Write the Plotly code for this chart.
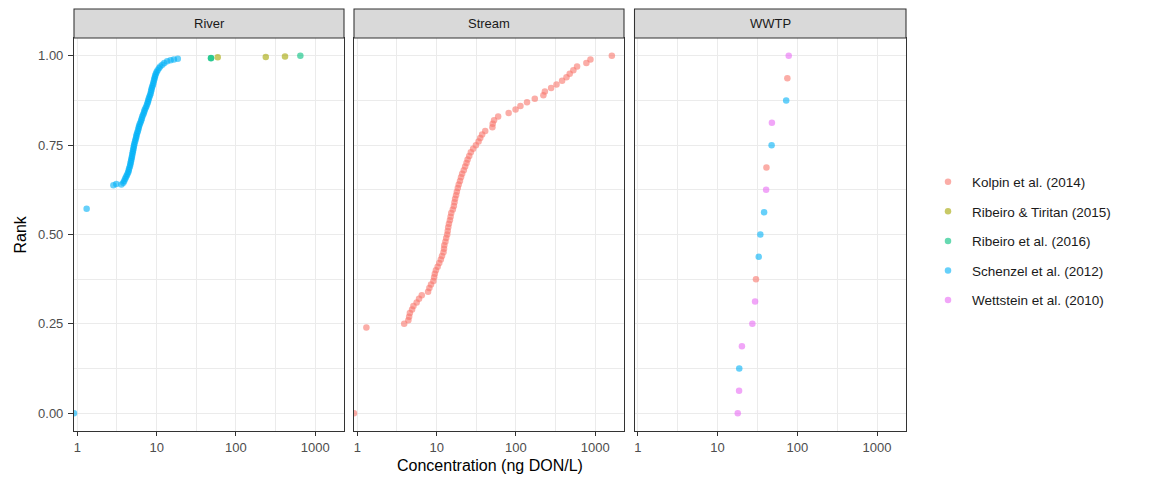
import plotly.graph_objects as go

# ---------------- data ----------------
SOURCES = ["Kolpin et al. (2014)", "Ribeiro & Tiritan (2015)", "Ribeiro et al. (2016)",
           "Schenzel et al. (2012)", "Wettstein et al. (2010)"]
COLORS = ["#F8766D", "#A3A500", "#00BF7D", "#00B0F6", "#E76BF3"]
PANELS = ["River", "Stream", "WWTP"]
X_TICKS = [1, 10, 100, 1000]
X_TICK_LABELS = ["1", "10", "100", "1000"]
X_MINOR = [3.1623, 31.623, 316.23]
Y_TICKS = [0, 0.25, 0.5, 0.75, 1.0]
Y_TICK_LABELS = ["0.00", "0.25", "0.50", "0.75", "1.00"]
Y_MINOR = [0.125, 0.375, 0.625, 0.875]

# River
river_schenzel_conc = [0, 1.31, 2.85, 3.1, 3.6, 3.8, 3.9, 4.0, 4.1, 4.2, 4.3, 4.4, 4.45, 4.5, 4.6,
                       4.65, 4.7, 4.75, 4.8, 4.85, 4.9, 4.95, 5.0, 5.05, 5.1, 5.15, 5.2, 5.25, 5.35,
                       5.4, 5.5, 5.55, 5.6, 5.7, 5.8, 5.9, 5.95, 6.05, 6.15, 6.3, 6.4, 6.5, 6.6, 6.75,
                       6.9, 7.0, 7.1, 7.3, 7.45, 7.6, 7.75, 7.85, 7.95, 8.1, 8.25, 8.4, 8.5, 8.6, 8.7,
                       8.85, 9.0, 9.1, 9.25, 9.35, 9.5, 9.6, 9.8, 10.0, 10.3, 10.7, 11.1, 11.8, 12.5,
                       13.6, 15.0, 16.5, 18.5]
river_schenzel_rank = [0, 0.572, 0.638, 0.641, 0.640, 0.645, 0.650, 0.655, 0.660, 0.665, 0.670, 0.675,
                       0.680, 0.685, 0.690, 0.695, 0.700, 0.705, 0.710, 0.715, 0.720, 0.725, 0.730,
                       0.735, 0.740, 0.745, 0.750, 0.755, 0.760, 0.765, 0.770, 0.775, 0.780, 0.785,
                       0.790, 0.795, 0.800, 0.805, 0.810, 0.815, 0.820, 0.825, 0.830, 0.835, 0.840,
                       0.845, 0.850, 0.855, 0.860, 0.865, 0.870, 0.875, 0.880, 0.885, 0.890, 0.895,
                       0.900, 0.905, 0.910, 0.915, 0.920, 0.925, 0.930, 0.935, 0.940, 0.945, 0.950,
                       0.955, 0.960, 0.965, 0.970, 0.975, 0.980, 0.985, 0.988, 0.990, 0.992]
river_tiritan_conc = [59, 238, 416]
river_tiritan_rank = [0.996, 0.997, 0.998]
river_ribeiro_conc = [48.5, 48.5, 649]
river_ribeiro_rank = [0.993, 0.994, 1.0]

# Stream
stream_kolpin_conc = [0, 1.3, 3.9, 4.4, 4.5, 4.6, 4.9, 5.1, 5.6, 6.0, 6.5, 7.8, 8.1, 8.5, 9.1, 9.3, 9.5,
                      9.8, 10.3, 10.8, 11.3, 11.7, 12.2, 12.4, 12.5, 12.9, 13.2, 13.6, 13.8, 14.0, 14.3,
                      14.7, 15.0, 15.3, 16.0, 16.5, 16.8, 17.1, 17.6, 18.0, 18.5, 19.0, 19.7, 20.3,
                      21.0, 22.0, 22.9, 23.8, 24.6, 25.8, 27.0, 28.9, 31.3, 33.8, 35.5, 37.5, 41.0,
                      50.5, 51.0, 53.0, 59.7, 81, 99, 114, 138, 173, 222, 232, 278, 325, 382, 434,
                      477, 530, 590, 774, 871, 1620]
stream_kolpin_rank = [0, 0.24, 0.25, 0.26, 0.27, 0.28, 0.29, 0.30, 0.31, 0.32, 0.33, 0.34, 0.35, 0.36,
                      0.37, 0.38, 0.39, 0.40, 0.41, 0.42, 0.43, 0.44, 0.45, 0.46, 0.47, 0.48, 0.49,
                      0.50, 0.51, 0.52, 0.53, 0.54, 0.55, 0.56, 0.57, 0.58, 0.59, 0.60, 0.61, 0.62,
                      0.63, 0.64, 0.65, 0.66, 0.67, 0.68, 0.69, 0.70, 0.71, 0.72, 0.73, 0.74, 0.75,
                      0.76, 0.77, 0.78, 0.79, 0.80, 0.81, 0.82, 0.83, 0.84, 0.85, 0.86, 0.87, 0.88,
                      0.89, 0.90, 0.91, 0.92, 0.93, 0.94, 0.95, 0.96, 0.97, 0.98, 0.99, 1.00]

# WWTP
wwtp_kolpin_conc = [75, 41.0, 30.3]
wwtp_kolpin_rank = [0.9375, 0.6875, 0.375]
wwtp_schenzel_conc = [72.5, 47.6, 38.3, 34.4, 32.8, 18.7]
wwtp_schenzel_rank = [0.875, 0.75, 0.5625, 0.5, 0.4375, 0.125]
wwtp_wettstein_conc = [78, 48.0, 40.6, 29.5, 27.3, 20.2, 18.6, 17.9]
wwtp_wettstein_rank = [1.0, 0.8125, 0.625, 0.3125, 0.25, 0.1875, 0.0625, 0.0]

# (panel index, source index, concentrations, ranks)
SERIES = [
    (0, 3, river_schenzel_conc, river_schenzel_rank),
    (0, 2, river_ribeiro_conc, river_ribeiro_rank),
    (0, 1, river_tiritan_conc, river_tiritan_rank),
    (1, 0, stream_kolpin_conc, stream_kolpin_rank),
    (2, 0, wwtp_kolpin_conc, wwtp_kolpin_rank),
    (2, 3, wwtp_schenzel_conc, wwtp_schenzel_rank),
    (2, 4, wwtp_wettstein_conc, wwtp_wettstein_rank),
]

# ---------------- layout geometry ----------------
W, H = 1150, 484
ML, MR, MT, MB = 74, 244, 9, 53
PW = W - ML - MR
PH = H - MT - MB
X_LOG_RANGE = [-0.042, 3.363]
Y_RANGE = [-0.05, 1.05]
panel_px = [(74, 344), (354, 624), (634.5, 906)]
x_domains = [[(a - ML) / PW, (b - ML) / PW] for a, b in panel_px]
panel_top = (H - MB - 38) / PH
y_domain = [0, panel_top]

FONT = "Liberation Sans, Arial, sans-serif"
TICK_FONT = dict(size=13, color="#4D4D4D", family=FONT)

fig = go.Figure()

shown = set()
for p, s, conc, rank in SERIES:
    # zero concentrations sit at -Inf on a log scale: drawn at the panel edge
    xs = [c if c > 0 else 10 ** X_LOG_RANGE[0] for c in conc]
    sfx = "" if p == 0 else str(p + 1)
    fig.add_trace(go.Scatter(
        x=xs, y=rank, mode="markers",
        xaxis="x" + sfx, yaxis="y" + sfx,
        marker=dict(color=COLORS[s], size=6.5, opacity=0.6, line=dict(width=0)),
        name=SOURCES[s], legendgroup=SOURCES[s], legendrank=s + 1,
        showlegend=s not in shown, cliponaxis=True,
        hovertemplate="%{x}<br>%{y}<extra>" + SOURCES[s] + "</extra>",
    ))
    shown.add(s)

layout = dict(
    width=W, height=H,
    margin=dict(l=ML, r=MR, t=MT, b=MB, pad=0),
    paper_bgcolor="white", plot_bgcolor="white",
    font=dict(family=FONT, color="#1A1A1A"),
    legend=dict(x=(924 - ML) / PW, xanchor="left", y=(H - MB - 241) / PH, yanchor="middle",
                font=dict(size=13.5, color="#1A1A1A", family=FONT),
                tracegroupgap=9, itemsizing="trace", itemwidth=38, bgcolor="rgba(0,0,0,0)"),
    showlegend=True,
)

shapes = []
annotations = []
for i in range(3):
    sfx = "" if i == 0 else str(i + 1)
    layout["xaxis" + sfx] = dict(
        domain=x_domains[i], type="log", range=X_LOG_RANGE, anchor="y" + sfx,
        tickmode="array", tickvals=X_TICKS, ticktext=X_TICK_LABELS,
        ticks="outside", ticklen=4, tickwidth=1, tickcolor="#333333",
        tickfont=TICK_FONT,
        showgrid=True, gridcolor="#EBEBEB", gridwidth=1.07,
        minor=dict(tickmode="array", tickvals=X_MINOR, showgrid=True, gridcolor="#EBEBEB",
                   gridwidth=0.55, ticks=""),
        showline=True, mirror=True, linecolor="#333333", linewidth=1.07, zeroline=False,
    )
    layout["yaxis" + sfx] = dict(
        domain=y_domain, range=Y_RANGE, anchor="x" + sfx,
        tickmode="array", tickvals=Y_TICKS, ticktext=Y_TICK_LABELS,
        ticks="outside" if i == 0 else "", ticklen=5, tickwidth=1, tickcolor="#333333",
        showticklabels=(i == 0), ticklabelstandoff=2,
        tickfont=TICK_FONT,
        showgrid=True, gridcolor="#EBEBEB", gridwidth=1.07,
        minor=dict(tickmode="array", tickvals=Y_MINOR, showgrid=True, gridcolor="#EBEBEB",
                   gridwidth=0.55, ticks=""),
        showline=True, mirror=True, linecolor="#333333", linewidth=1.07, zeroline=False,
    )
    shapes.append(dict(type="rect", xref="paper", yref="paper",
                       x0=x_domains[i][0], x1=x_domains[i][1], y0=panel_top, y1=1.0,
                       fillcolor="#D9D9D9", line=dict(color="#333333", width=1.07), layer="above"))
    annotations.append(dict(text=PANELS[i], xref="paper", yref="paper",
                            x=(x_domains[i][0] + x_domains[i][1]) / 2, y=(panel_top + 1.0) / 2,
                            xanchor="center", yanchor="middle", showarrow=False,
                            font=dict(size=13, color="#1A1A1A", family=FONT)))

annotations.append(dict(text="Concentration (ng DON/L)", xref="paper", yref="paper",
                        x=((490 - ML) / PW), y=(H - MB - 466) / PH, xanchor="center", yanchor="middle",
                        showarrow=False, font=dict(size=16, color="black", family=FONT)))
annotations.append(dict(text="Rank", xref="paper", yref="paper", textangle=-90,
                        x=(20 - ML) / PW, y=panel_top / 2, xanchor="center", yanchor="middle",
                        showarrow=False, font=dict(size=16, color="black", family=FONT)))

layout["shapes"] = shapes
layout["annotations"] = annotations
fig.update_layout(**layout)

fig.write_html("out.html")
